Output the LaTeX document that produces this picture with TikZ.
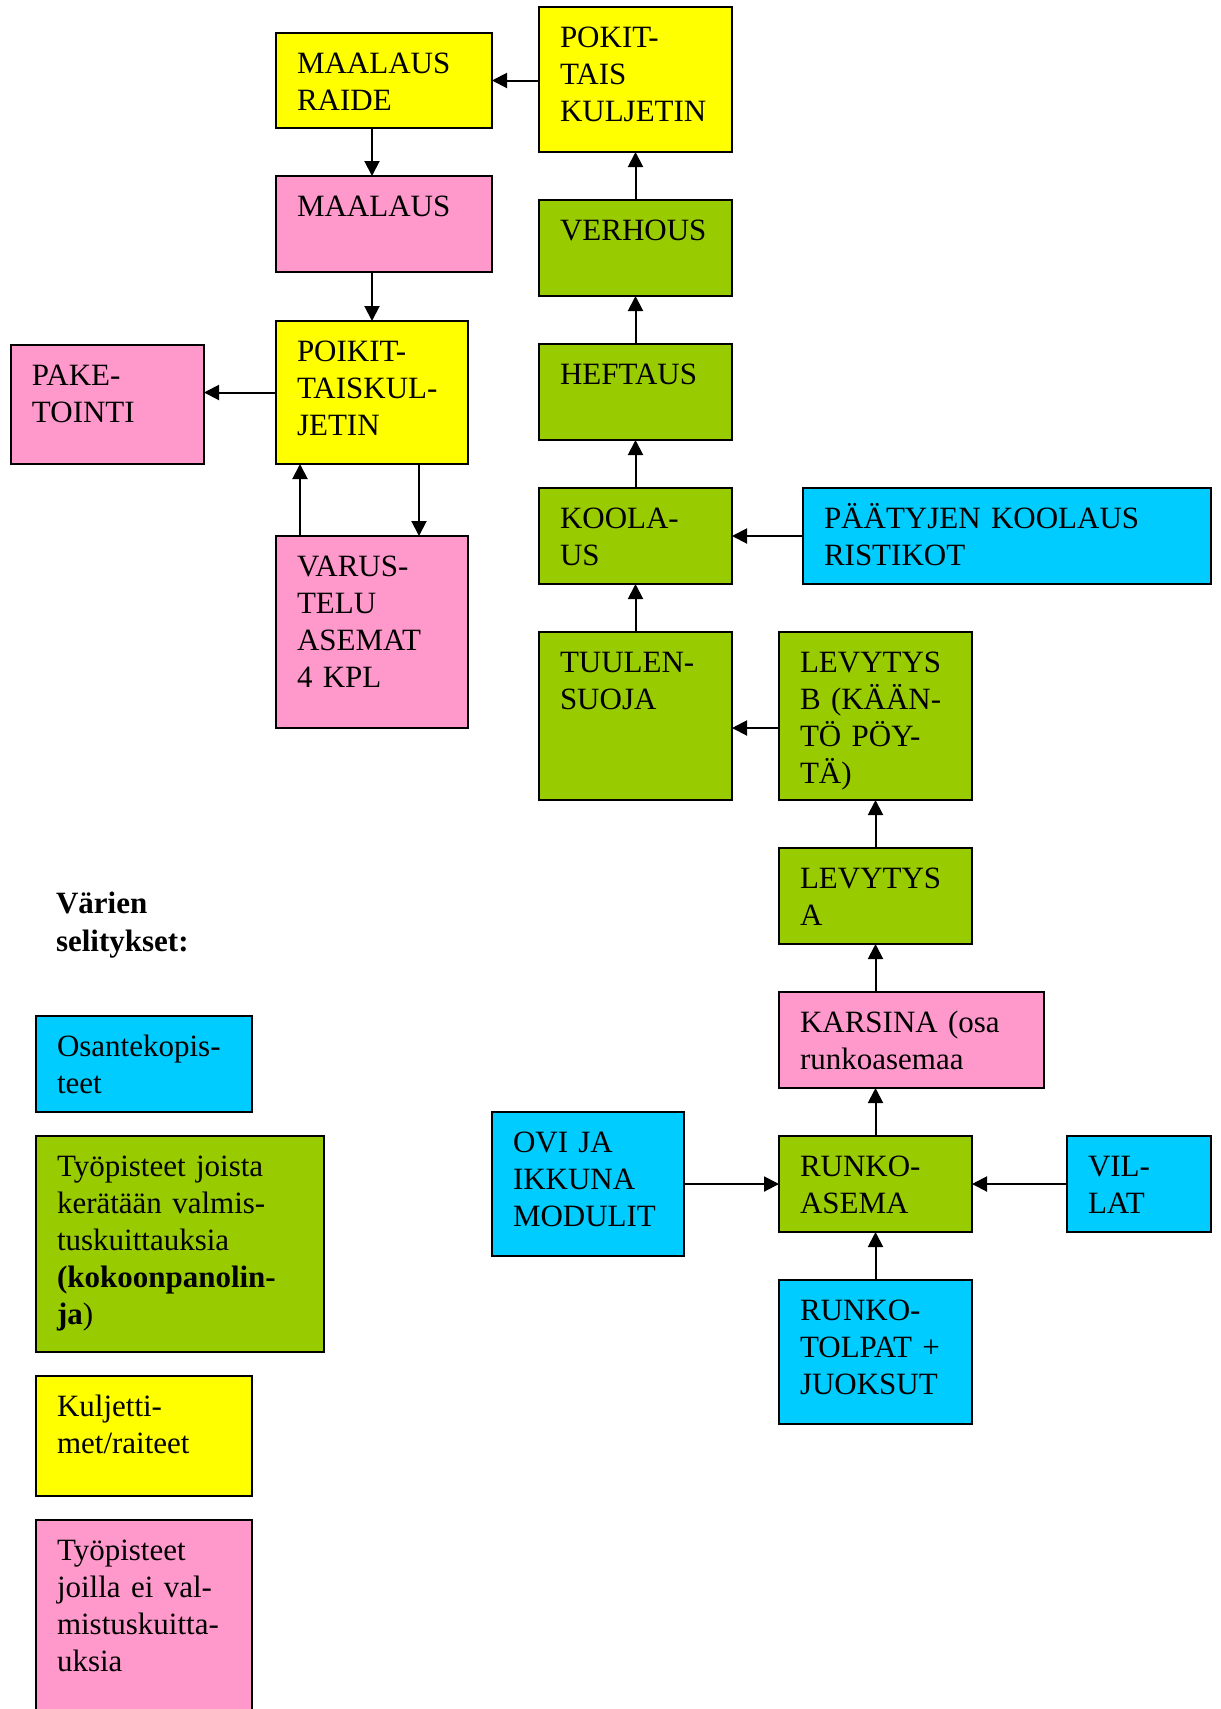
\documentclass[tikz,border=0pt]{standalone}
\usepackage{fontspec}
\setmainfont{Liberation Serif}
\usepackage{xcolor}
\usepackage{tikz}
\usetikzlibrary{arrows.meta, positioning}

\definecolor{keltainen}{HTML}{FFFF00}
\definecolor{pinkki}{HTML}{FF99CC}
\definecolor{vihrea}{HTML}{99CC00}
\definecolor{syaani}{HTML}{00CCFF}

\tikzset{
  laatikko/.style={draw, line width=1pt, anchor=north west, outer sep=0pt,
    inner xsep=10.5pt, inner ysep=0pt, align=left, text height=20pt,
    font=\fontsize{15.5}{18.5}\selectfont},
  koko/.code 2 args={%
    \pgfmathsetmacro\laatw{#1/2-21}\pgfmathsetmacro\laatd{#2/2-20}%
    \pgfmathsetmacro\laatmw{#1/2}%
    \edef\laatkey{\noexpand\pgfkeysalso{minimum width=\laatmw pt,
      text width=\laatw pt, text depth=\laatd pt}}\laatkey},
  kelta/.style={laatikko, fill=keltainen},
  pinkki/.style={laatikko, fill=pinkki},
  vihrea/.style={laatikko, fill=vihrea},
  syaani/.style={laatikko, fill=syaani},
}

\begin{document}
\begin{tikzpicture}[x=0.5pt, y=-0.5pt, >={Triangle[length=7.5pt,width=7.5pt]}, line width=1pt]
        \useasboundingbox (0,0) rectangle (1221,1709);

        % linja
        \node[kelta, koko={216}{95}] (raide) at (276,33) {MAALAUS\\RAIDE};
        \node[kelta, koko={193}{145}] (pokit) at (539,7) {POKIT-\\TAIS\\KULJETIN};
        \node[pinkki, koko={216}{96}] (maalaus) at (276,176) {MAALAUS};
        \node[vihrea, koko={193}{96}] (verhous) at (539,200) {VERHOUS};
        \node[kelta, koko={192}{143}] (poikit) at (276,321) {POIKIT-\\TAISKUL-\\JETIN};
        \node[pinkki, koko={193}{119}] (paketointi) at (11,345) {PAKE-\\TOINTI};
        \node[vihrea, koko={193}{96}] (heftaus) at (539,344) {HEFTAUS};
        \node[vihrea, koko={193}{96}] (koolaus) at (539,488) {KOOLA-\\US};
        \node[syaani, koko={408}{96}] (paatyjen) at (803,488) {PÄÄTYJEN KOOLAUS\\RISTIKOT};
        \node[pinkki, koko={192}{192}] (varustelu) at (276,536) {VARUS-\\TELU\\ASEMAT\\4 KPL};
        \node[vihrea, koko={193}{168}] (tuulensuoja) at (539,632) {TUULEN-\\SUOJA};
        \node[vihrea, koko={193}{168}] (levytysb) at (779,632) {LEVYTYS\\B (KÄÄN-\\TÖ PÖY-\\TÄ)};
        \node[vihrea, koko={193}{96}] (levytysa) at (779,848) {LEVYTYS\\A};
        \node[pinkki, koko={265}{96}] (karsina) at (779,992) {KARSINA (osa\\runkoasemaa};
        \node[syaani, koko={192}{144}] (ovi) at (492,1112) {OVI JA\\IKKUNA\\MODULIT};
        \node[vihrea, koko={193}{96}] (runkoasema) at (779,1136) {RUNKO-\\ASEMA};
        \node[syaani, koko={144}{96}] (villat) at (1067,1136) {VIL-\\LAT};
        \node[syaani, koko={193}{144}] (runkotolpat) at (779,1280) {RUNKO-\\TOLPAT +\\JUOKSUT};

        % selitykset
        \node[anchor=north west, inner sep=0pt, align=left, text width=120pt, text height=10pt,
              font=\fontsize{15.5}{19}\selectfont\bfseries] (otsikko) at (55,892) {Värien\\selitykset:};
        \node[syaani, koko={216}{96}] (osante) at (36,1016) {Osantekopis-\\teet};
        \node[vihrea, koko={288}{216}] (joista) at (36,1136) {Työpisteet joista\\kerätään valmis-\\tuskuittauksia\\\textbf{(kokoonpanolin-}\\\textbf{ja})};
        \node[kelta, koko={216}{120}] (kuljettimet) at (36,1376) {Kuljetti-\\met/raiteet};
        \node[pinkki, koko={216}{200}] (joilla) at (36,1520) {Työpisteet\\joilla ei val-\\mistuskuitta-\\uksia};

        \path[->, line width=1pt]
        (pokit.west |- raide.east) edge (raide.east)
        (raide.south -| poikit) edge (maalaus.north -| poikit)
        (maalaus.south -| poikit) edge (poikit)
        (poikit.west) edge (paketointi.east |- poikit.west)
        ([xshift=12pt]varustelu.north west) edge ([xshift=12pt]poikit.south west)
        ([xshift=-24.5pt]poikit.south east) edge ([xshift=-24.5pt]varustelu.north east)
        (verhous) edge (pokit)
        (heftaus) edge (verhous)
        (koolaus) edge (heftaus)
        (paatyjen) edge (koolaus)
        (tuulensuoja) edge (koolaus)
        ([yshift=-6pt]levytysb.west) edge ([yshift=-6pt]tuulensuoja.east)
        (levytysa) edge (levytysb)
        (karsina.north -| levytysa) edge (levytysa)
        (runkoasema) edge (karsina.south -| runkoasema)
        (ovi) edge (runkoasema)
        (villat) edge (runkoasema)
        (runkotolpat) edge (runkoasema);

    \end{tikzpicture}
\end{document}
